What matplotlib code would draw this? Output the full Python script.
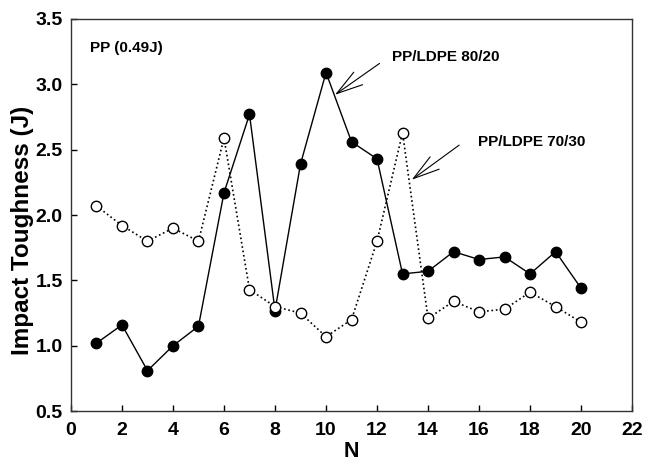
import matplotlib
matplotlib.use("Agg")
import matplotlib.pyplot as plt

plt.rcParams['font.family'] = ['Liberation Sans', 'DejaVu Sans']
plt.rcParams['font.weight'] = 'bold'

n = list(range(1, 21))

# PP/LDPE 80/20 (filled circles, solid line)
pp_ldpe_80_20 = [1.02, 1.16, 0.81, 1.00, 1.15, 2.17, 2.77, 1.27, 2.39, 3.09,
                 2.56, 2.43, 1.55, 1.57, 1.72, 1.66, 1.68, 1.55, 1.72, 1.44]

# PP/LDPE 70/30 (open circles, dotted line)
pp_ldpe_70_30 = [2.07, 1.92, 1.80, 1.90, 1.80, 2.59, 1.43, 1.30, 1.25, 1.07,
                 1.20, 1.80, 2.63, 1.21, 1.34, 1.26, 1.28, 1.41, 1.30, 1.18]

xticks = list(range(0, 23, 2))
yticks = [0.5, 1.0, 1.5, 2.0, 2.5, 3.0, 3.5]

fig = plt.figure(figsize=(6.45, 4.62), dpi=100)
ax = fig.add_axes([0.110, 0.110, 0.870, 0.849])

ax.plot(n, pp_ldpe_80_20, '-', color='black', lw=1.0, marker='o',
        markersize=7.5, markerfacecolor='black', markeredgecolor='black', zorder=3)
ax.plot(n, pp_ldpe_70_30, ':', color='black', lw=1.2, marker='o',
        markersize=7.5, markerfacecolor='white', markeredgecolor='black', zorder=3)

ax.set_xlim(0, 22)
ax.set_ylim(0.5, 3.5)
ax.set_xticks(xticks)
ax.set_yticks(yticks)
ax.set_yticklabels(['%.1f' % v for v in yticks])
ax.tick_params(direction='in', length=4, width=1, labelsize=14)
ax.tick_params(axis='x', pad=8)
ax.tick_params(axis='y', pad=6)
for lab in ax.get_xticklabels() + ax.get_yticklabels():
    lab.set_fontweight('bold')
for s in ax.spines.values():
    s.set_linewidth(1.0)
    s.set_color('#333333')

ax.set_xlabel('N', fontsize=15.5, fontweight='bold', labelpad=1)
ax.set_ylabel('Impact Toughness (J)', fontsize=17.5, fontweight='bold')
ax.yaxis.set_label_coords(-0.066, 0.46)

ax.text(0.75, 3.28, 'PP (0.49J)', fontsize=11, fontweight='bold', va='center')

arrow = dict(arrowstyle='->,head_length=19,head_width=5.5', mutation_scale=1,
             color='black', lw=0.8, shrinkA=0, shrinkB=0)
ax.annotate('', xy=(10.35, 2.92), xytext=(12.1, 3.16), arrowprops=arrow)
ax.annotate('', xy=(13.36, 2.27), xytext=(15.22, 2.535), arrowprops=arrow)
ax.text(12.6, 3.21, 'PP/LDPE 80/20', fontsize=11, fontweight='bold', va='center')
ax.text(15.94, 2.558, 'PP/LDPE 70/30', fontsize=11, fontweight='bold', va='center')

fig.savefig('out.png', dpi=100)
